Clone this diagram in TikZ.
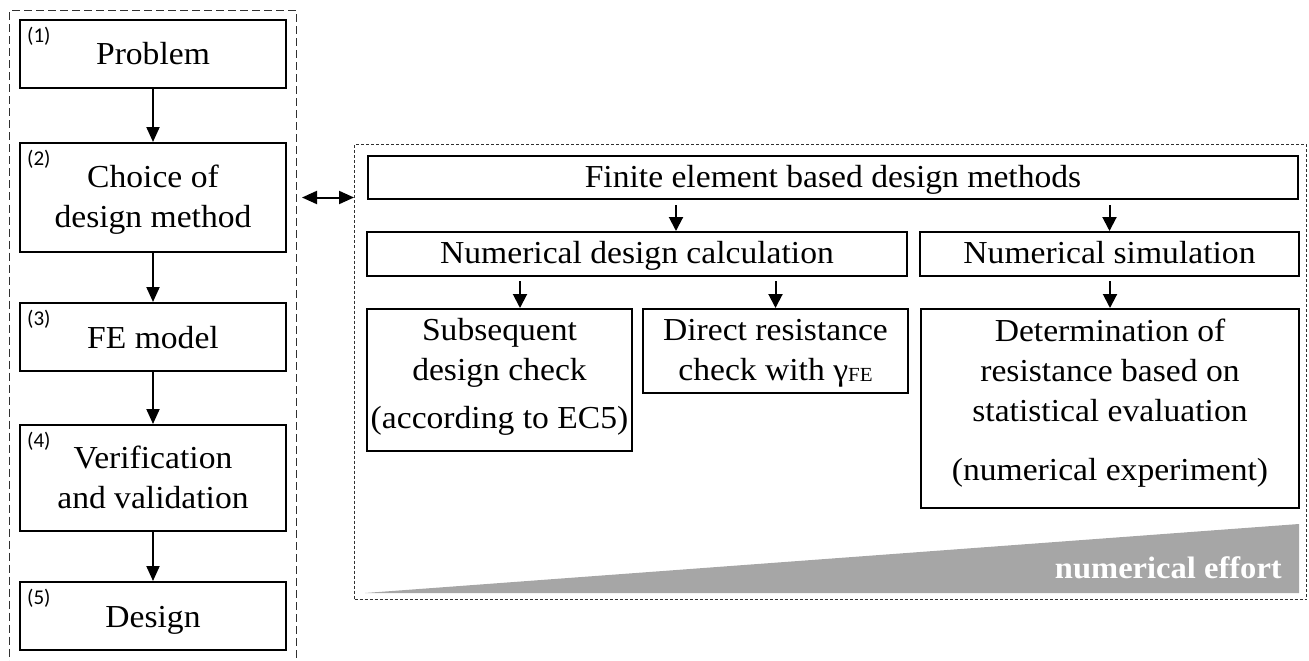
\documentclass[tikz,border=0pt]{standalone}
\usepackage{fontspec}
\setmainfont{Liberation Serif}[FakeStretch=1.05]
\newfontfamily\numfont{Carlito}
\usetikzlibrary{arrows.meta,calc}
\definecolor{effortgray}{HTML}{A6A6A6}
\definecolor{framegray}{HTML}{303030}

\begin{document}
\begin{tikzpicture}[x=1pt,y=-1pt,
  box/.style={draw,line width=2pt,inner sep=0pt,align=center,
    font=\fontsize{32}{40}\selectfont},
  num/.style={inner sep=0pt,anchor=north west,font=\numfont\fontsize{21}{21}\selectfont},
  arr/.style={line width=2pt,-{Triangle[length=15pt,width=13pt]}},
  sarr/.style={line width=2pt,-{Triangle[length=14pt,width=14pt]}},
  darr/.style={line width=2pt,{Triangle[length=15pt,width=13pt]}-{Triangle[length=15pt,width=13pt]}},
  lframe/.style={draw=framegray,line width=1pt,dash pattern=on 8pt off 4pt,inner sep=0pt,anchor=north west},
  rframe/.style={draw=framegray,line width=1pt,dash pattern=on 3pt off 2pt,inner sep=0pt,anchor=north west},
  effort/.style={inner sep=0pt,anchor=base east,text=white,font=\bfseries\fontsize{31}{31}\selectfont}]

\useasboundingbox (0,0) rectangle (1309,661);

% frames (the left one is open below the page edge)
\node[lframe,minimum width=287pt,minimum height=720pt] (L) at (9,10) {};
\node[rframe,minimum width=952pt,minimum height=455pt] (R) at (354,144) {};

% design procedure
\node[box,minimum width=266pt,minimum height=68pt,text height=22pt,text depth=0pt] (P1) at (153,54) {Problem};
\node[box,minimum width=266pt,minimum height=109pt,text height=62pt,text depth=3pt] (P2) at (153,197.5) {Choice of\\design method};
\node[box,minimum width=266pt,minimum height=68pt,text height=22pt,text depth=0pt] (P3) at (153,337) {FE model};
\node[box,minimum width=266pt,minimum height=106pt,text height=63pt,text depth=3pt] (P4) at (153,478) {Verification\\and validation};
\node[box,minimum width=266pt,minimum height=68pt,text height=22pt,text depth=0pt] (P5) at (153,616) {Design};

\node[num] (n1) at ($(P1.north west)+(8,8)$) {(1)};
\node[num] (n2) at ($(P2.north west)+(8,8)$) {(2)};
\node[num] (n3) at ($(P3.north west)+(8,8)$) {(3)};
\node[num] (n4) at ($(P4.north west)+(8,8)$) {(4)};
\node[num] (n5) at ($(P5.north west)+(8,8)$) {(5)};

\draw[arr] (P1) -- (P2);
\draw[arr] (P2) -- (P3);
\draw[arr] (P3) -- (P4);
\draw[arr] (P4) -- (P5);

% FE based design methods
\node[box,minimum width=930pt,minimum height=43pt,text height=22pt,text depth=3pt] (FEM) at (833,177.5) {Finite element based design methods};
\node[box,minimum width=540pt,minimum height=44pt,text height=22pt,text depth=4pt] (NDC) at (637,254) {Numerical design calculation};
\node[box,minimum width=379pt,minimum height=44pt,text height=22pt,text depth=4pt] (NS) at (1109.5,254) {Numerical simulation};
\node[box,minimum width=265pt,minimum height=142pt,text height=110pt,text depth=14pt] (SUB) at (499.5,380)
  {Subsequent\\design check\\[8pt](according to EC5)};
\node[box,minimum width=265pt,minimum height=84pt,text height=62pt,text depth=4pt] (DIR) at (775.5,351)
  {Direct resistance\\check with γ\raisebox{-1pt}{\fontsize{20}{20}\selectfont FE}};
\node[box,minimum width=378pt,minimum height=199pt,text height=162pt,text depth=19pt] (DET) at (1110,408.5)
  {Determination of\\resistance based on\\statistical evaluation\\[19pt](numerical experiment)};

\coordinate (a1) at ($(NDC.north)+(39,0)$);
\coordinate (a2) at ($(SUB.north)+(20.5,0)$);
\draw[sarr] ($(FEM.south -| a1)+(0,5)$) -- (a1);
\draw[sarr] ($(FEM.south -| NS.north)+(0,5)$) -- (NS.north);
\draw[sarr] ($(NDC.south -| a2)+(0,4)$) -- (a2);
\draw[sarr] ($(NDC.south -| DIR.north)+(0,4)$) -- (DIR.north);
\draw[sarr] ($(NS.south -| DET.north)+(0,4)$) -- (DET.north);

% link between procedure and methods
\draw[darr] ($(L.east |- P2.east)+(5,0)$) -- (R.west |- P2.east);

% numerical effort wedge
\fill[effortgray] (365,593) -- (1299,524) -- (1299,593) -- cycle;
\node[effort] (eff) at (1282,578) {numerical effort};

\end{tikzpicture}
\end{document}
